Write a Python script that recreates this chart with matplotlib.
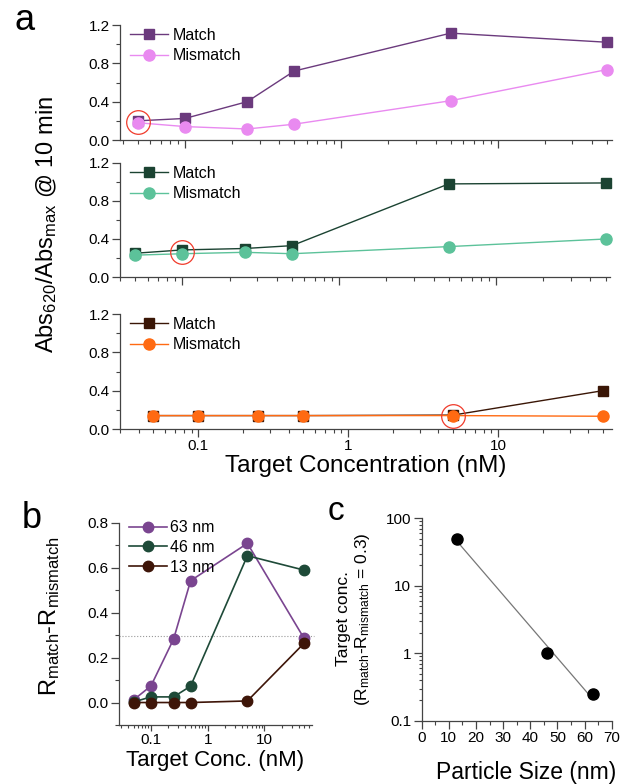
import numpy as np
import matplotlib
matplotlib.use("Agg")
import matplotlib.pyplot as plt
from matplotlib.ticker import FixedLocator, MultipleLocator, LogLocator, FuncFormatter, NullFormatter

plt.rcParams['font.family'] = ['Liberation Sans', 'DejaVu Sans']
plt.rcParams['mathtext.fontset'] = 'custom'
plt.rcParams['mathtext.rm'] = 'Liberation Sans'
plt.rcParams['mathtext.it'] = 'Liberation Sans'
plt.rcParams['mathtext.default'] = 'regular'

# ---------------- data ----------------
conc = [0.05, 0.1, 0.25, 0.5, 5, 50]

a1_match = [0.20, 0.225, 0.40, 0.72, 1.115, 1.02]
a1_mismatch = [0.18, 0.14, 0.115, 0.165, 0.41, 0.735]
a2_match = [0.25, 0.285, 0.30, 0.33, 0.98, 0.99]
a2_mismatch = [0.23, 0.245, 0.26, 0.245, 0.32, 0.40]
a3_match = [0.14, 0.14, 0.14, 0.14, 0.145, 0.40]
a3_mismatch = [0.14, 0.14, 0.14, 0.14, 0.14, 0.133]
circled = [(0.05, 0.19), (0.1, 0.265), (5, 0.14)]

b_labels = ['63 nm', '46 nm', '13 nm']
b_63 = [0.013, 0.074, 0.282, 0.542, 0.708, 0.285]
b_46 = [0.003, 0.025, 0.025, 0.073, 0.653, 0.589]
b_13 = [0.0, 0.0, 0.0, 0.0, 0.007, 0.264]
b_threshold = 0.295

c_size = [13, 46, 63]
c_conc = [50, 1, 0.25]

# ---------------- figure ----------------
W, H = 621, 784
fig = plt.figure(figsize=(W/100, H/100), dpi=100)

def rect(l, r, t, b):
    return [l/W, 1-b/H, (r-l)/W, (b-t)/H]

spine_col = '#444444'
TICK = 11

def style(ax):
    for s in ['top', 'right']:
        ax.spines[s].set_visible(False)
    for s in ['left', 'bottom']:
        ax.spines[s].set_color(spine_col)
        ax.spines[s].set_linewidth(0.9)
    ax.tick_params(which='major', direction='out', length=5.5, width=0.9, color=spine_col, labelsize=TICK, pad=2)
    ax.tick_params(which='minor', direction='out', length=3.2, width=0.8, color=spine_col)

fmt = FuncFormatter(lambda v, p: ('%g' % v))

panels_a = [
    (rect(120, 612, 25, 140), (0.0384, 53.8), a1_match, a1_mismatch, '#6B3A7D', '#E98AF0'),
    (rect(120, 610, 163, 277), (0.040, 53.4), a2_match, a2_mismatch, '#1B4332', '#5CC29A'),
    (rect(120, 612, 314, 429), (0.030, 57.5), a3_match, a3_mismatch, '#3A1606', '#FF6A12'),
]
axes_a = []
for i, (r, xl, m, mm, cm, cmm) in enumerate(panels_a):
    ax = fig.add_axes(r)
    style(ax)
    ax.set_xscale('log')
    ax.set_xlim(*xl)
    ax.set_ylim(0, 1.2)
    ax.yaxis.set_major_locator(FixedLocator([0.0, 0.4, 0.8, 1.2]))
    ax.yaxis.set_minor_locator(MultipleLocator(0.2))
    ax.yaxis.set_major_formatter(FuncFormatter(lambda v, p: '%.1f' % v))
    ax.xaxis.set_major_locator(LogLocator(base=10, numticks=10))
    ax.xaxis.set_minor_locator(LogLocator(base=10, subs=np.arange(2, 10), numticks=20))
    ax.xaxis.set_minor_formatter(NullFormatter())
    if i < 2:
        ax.xaxis.set_major_formatter(NullFormatter())
    else:
        ax.xaxis.set_major_formatter(fmt)
    ax.plot(conc, m, '-s', color=cm, lw=1.0, ms=7.5, mec=cm, label='Match', zorder=3, clip_on=False)
    ax.plot(conc, mm, '-o', color=cmm, lw=1.0, ms=8, mec=cmm, label='Mismatch', zorder=4, clip_on=False)
    cx, cy = circled[i]
    ax.plot([cx], [cy], 'o', ms=17, mfc='none', mec='#F03A2A', mew=0.9, zorder=5, clip_on=False)
    ax.legend(loc='upper left', bbox_to_anchor=(0.0, 1.06), frameon=False, fontsize=11.5,
              handlelength=2.4, handletextpad=0.3, labelspacing=0.35, borderaxespad=0.2,
              numpoints=1)
    axes_a.append(ax)

axes_a[2].set_xlabel('Target Concentration (nM)', fontsize=17.5, labelpad=1)
fig.text(47/W, 1-224/H, 'Abs$_{620}$/Abs$_{max}$ @ 10 min', rotation=90, fontsize=17,
         ha='center', va='center')
fig.text(14/W, 1-20/H, 'a', fontsize=26, ha='left', va='center')

# ---------------- panel b ----------------
axb = fig.add_axes(rect(119, 311.7, 522.7, 725))
style(axb)
axb.set_xscale('log')
axb.set_xlim(0.0273, 68)
axb.set_ylim(-0.1, 0.8)
axb.yaxis.set_major_locator(FixedLocator([0.0, 0.2, 0.4, 0.6, 0.8]))
axb.yaxis.set_minor_locator(MultipleLocator(0.1))
axb.yaxis.set_major_formatter(FuncFormatter(lambda v, p: '%.1f' % v))
axb.xaxis.set_major_locator(LogLocator(base=10, numticks=10))
axb.xaxis.set_minor_locator(LogLocator(base=10, subs=np.arange(2, 10), numticks=20))
axb.xaxis.set_minor_formatter(NullFormatter())
axb.xaxis.set_major_formatter(fmt)
axb.tick_params(axis='x', which='minor', length=2.5)
axb.tick_params(axis='x', which='major', length=4)
axb.plot([0.0273, 75], [b_threshold, b_threshold], ':', color='#999999', lw=0.8, zorder=1, clip_on=False)
for vals, col, lab in zip([b_63, b_46, b_13], ['#7A4590', '#1E4A38', '#3E1508'], b_labels):
    axb.plot(conc, vals, '-o', color=col, lw=1.2, ms=7.5, label=lab, zorder=3, clip_on=False)
axb.legend(loc='upper left', bbox_to_anchor=(0.0, 1.06), frameon=False, fontsize=11.5,
           handlelength=2.4, handletextpad=0.2, labelspacing=0.3, borderaxespad=0.2)
axb.set_xlabel('Target Conc. (nM)', fontsize=16, labelpad=2)
fig.text(50/W, 1-616/H, 'R$_{match}$-R$_{mismatch}$', rotation=90, fontsize=17,
         ha='center', va='center')
fig.text(22/W, 1-518/H, 'b', fontsize=26, ha='left', va='center')

# ---------------- panel c ----------------
axc = fig.add_axes(rect(421.7, 611.7, 518.3, 720.7))
style(axc)
axc.set_yscale('log')
axc.set_xlim(0, 70)
axc.set_ylim(0.1, 100)
axc.xaxis.set_major_locator(MultipleLocator(10))
axc.xaxis.set_minor_locator(MultipleLocator(5))
axc.yaxis.set_major_locator(LogLocator(base=10, numticks=10))
axc.yaxis.set_minor_locator(LogLocator(base=10, subs=np.arange(2, 10), numticks=20))
axc.yaxis.set_minor_formatter(NullFormatter())
axc.yaxis.set_major_formatter(fmt)
axc.tick_params(axis='y', which='minor', length=2.5)
xs = np.array(c_size, float)
ys = np.log10(np.array(c_conc, float))
k, b0 = np.polyfit(xs, ys, 1)
xf = np.array([xs.min(), xs.max()])
axc.plot(xf, 10**(k*xf + b0), '-', color='#777777', lw=0.9, zorder=2)
axc.plot(c_size, c_conc, 'o', color='black', ms=8, zorder=3, clip_on=False)
fig.text(526/W, 1-773/H, 'Particle Size (nm)', fontsize=16.5, ha='center', va='center')
fig.text(354/W, 1-619/H, 'Target conc.\n(R$_{match}$-R$_{mismatch}$ = 0.3)', rotation=90,
         fontsize=12.5, ha='center', va='center', linespacing=1.15, multialignment='center')
fig.text(328/W, 1-511/H, 'c', fontsize=24, ha='left', va='center')

fig.savefig('out.png', dpi=100)
